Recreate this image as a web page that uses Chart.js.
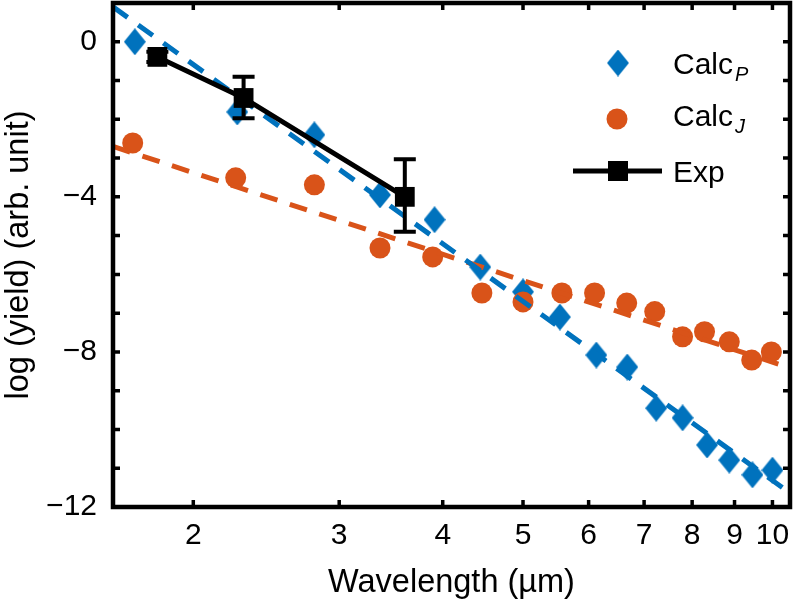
<!DOCTYPE html>
<html>
<head>
<meta charset="utf-8">
<script src="https://cdn.jsdelivr.net/npm/chart.js@4.4.1/dist/chart.umd.min.js"></script>
<style>
  html, body { margin: 0; padding: 0; background: #fff; }
</style>
</head>
<body>
<canvas id="grafico" width="794" height="603"></canvas>
<script>
// Datos (longitud de onda en um, log del rendimiento)
var lambdaP = [1.70, 2.26, 2.80, 3.36, 3.91, 4.44, 5.00, 5.54, 6.13, 6.68, 7.24, 7.79, 8.34, 8.87, 9.46, 10.0];
var calcP   = [0.0, -1.81, -2.40, -3.95, -4.59, -5.81, -6.45, -7.10, -8.08, -8.39, -9.45, -9.70, -10.40, -10.79, -11.17, -11.05];

var lambdaJ = [1.69, 2.25, 2.80, 3.36, 3.89, 4.46, 5.00, 5.57, 6.10, 6.67, 7.21, 7.79, 8.28, 8.87, 9.44, 9.97];
var calcJ   = [-2.61, -3.51, -3.69, -5.32, -5.55, -6.48, -6.71, -6.48, -6.48, -6.74, -6.96, -7.61, -7.48, -7.74, -8.21, -8.00];

var lambdaExp = [1.81, 2.30, 3.60];
var expVal    = [-0.39, -1.45, -4.00];
var expBajo   = [-0.52, -1.97, -4.90];
var expAlto   = [-0.26, -0.90, -3.03];

var ajusteX = [1.6, 10.5];
var ajusteP = [0.90, -11.64];
var ajusteJ = [-2.70, -8.41];

var ticksX = [2, 3, 4, 5, 6, 7, 8, 9, 10];
var etiquetasY = [-12, -8, -4, 0];
var marcasY = [-12, -11, -10, -9, -8, -7, -6, -5, -4, -3, -2, -1, 0];

var azul = '#0072BD';
var naranja = '#D95319';
var fuente = '"Liberation Sans", Arial, Helvetica, sans-serif';

function puntos(xs, ys) {
    var r = [];
    for (var i = 0; i < xs.length; i++) r.push({ x: xs[i], y: ys[i] });
    return r;
}

// rombo un poco mas alto que ancho, como en la figura original
var rombo = document.createElement('canvas');
rombo.width = 22;
rombo.height = 27;
var rc = rombo.getContext('2d');
rc.fillStyle = azul;
rc.beginPath();
rc.moveTo(11, 0);
rc.lineTo(22, 13.5);
rc.lineTo(11, 27);
rc.lineTo(0, 13.5);
rc.closePath();
rc.fill();

// barras de error de los datos experimentales
var barrasError = {
    id: 'barrasError',
    afterDatasetsDraw: function(chart) {
        var ctx = chart.ctx, sx = chart.scales.x, sy = chart.scales.y;
        ctx.save();
        ctx.strokeStyle = '#000';
        ctx.lineWidth = 4;
        ctx.beginPath();
        for (var i = 0; i < lambdaExp.length; i++) {
            var px = sx.getPixelForValue(lambdaExp[i]);
            var y1 = sy.getPixelForValue(expBajo[i]);
            var y2 = sy.getPixelForValue(expAlto[i]);
            ctx.moveTo(px, y1); ctx.lineTo(px, y2);
            ctx.moveTo(px - 11, y1); ctx.lineTo(px + 11, y1);
            ctx.moveTo(px - 11, y2); ctx.lineTo(px + 11, y2);
        }
        ctx.stroke();
        ctx.restore();
    }
};

// marco, marcas hacia dentro, titulo del eje y, leyenda
var marco = {
    id: 'marco',
    afterDraw: function(chart) {
        var a = chart.chartArea, ctx = chart.ctx;
        var sx = chart.scales.x, sy = chart.scales.y;
        ctx.save();
        ctx.strokeStyle = '#000';
        ctx.lineWidth = 3.5;
        ctx.beginPath();
        ticksX.forEach(function(v) {
            var px = sx.getPixelForValue(v);
            ctx.moveTo(px, a.bottom); ctx.lineTo(px, a.bottom - 7);
            ctx.moveTo(px, a.top); ctx.lineTo(px, a.top + 7);
        });
        marcasY.forEach(function(v) {
            var py = sy.getPixelForValue(v);
            ctx.moveTo(a.left, py); ctx.lineTo(a.left + 7, py);
            ctx.moveTo(a.right, py); ctx.lineTo(a.right - 7, py);
        });
        ctx.stroke();
        ctx.lineWidth = 4.5;
        ctx.strokeRect(a.left, a.top, a.right - a.left, a.bottom - a.top);

        // titulo eje y, centrado en el area del grafico
        ctx.fillStyle = '#000';
        ctx.font = '32.5px ' + fuente;
        ctx.textAlign = 'center';
        ctx.textBaseline = 'alphabetic';
        ctx.translate(28, (a.top + a.bottom) / 2);
        ctx.rotate(-Math.PI / 2);
        ctx.fillText('log (yield) (arb. unit)', 0, 0);
        ctx.restore();

        // leyenda
        ctx.save();
        ctx.drawImage(rombo, 618 - 11, 63 - 13.5);
        ctx.fillStyle = naranja;
        ctx.beginPath();
        ctx.arc(617, 119, 10.5, 0, 2 * Math.PI);
        ctx.fill();
        ctx.strokeStyle = '#000';
        ctx.lineWidth = 5;
        ctx.beginPath();
        ctx.moveTo(573, 171); ctx.lineTo(662, 171);
        ctx.stroke();
        ctx.fillStyle = '#000';
        ctx.fillRect(608, 161, 20, 20);

        ctx.textAlign = 'left';
        ctx.textBaseline = 'alphabetic';
        ctx.font = '30px ' + fuente;
        var w = ctx.measureText('Calc').width;
        ctx.fillText('Calc', 673, 74);
        ctx.fillText('Calc', 673, 126);
        ctx.fillText('Exp', 673, 182);
        ctx.font = 'italic 20px ' + fuente;
        ctx.fillText('P', 673 + w + 2, 81);
        ctx.fillText('J', 673 + w + 2, 133);
        ctx.restore();
    }
};

var ctx = document.getElementById('grafico').getContext('2d');

new Chart(ctx, {
    type: 'scatter',
    data: {
        datasets: [
            {
                label: 'CalcP',
                data: puntos(lambdaP, calcP),
                showLine: false,
                pointStyle: rombo,
                pointRadius: 13,
                order: 6
            },
            {
                label: 'CalcJ',
                data: puntos(lambdaJ, calcJ),
                showLine: false,
                pointStyle: 'circle',
                pointRadius: 10.5,
                pointBackgroundColor: naranja,
                pointBorderWidth: 0,
                order: 5
            },
            {
                label: 'ajusteJ',
                data: puntos(ajusteX, ajusteJ),
                showLine: true,
                borderColor: naranja,
                borderWidth: 5,
                borderDash: [18, 13],
                pointRadius: 0,
                order: 4
            },
            {
                label: 'ajusteP',
                data: puntos(ajusteX, ajusteP),
                showLine: true,
                borderColor: azul,
                borderWidth: 5,
                borderDash: [18, 13],
                pointRadius: 0,
                order: 3
            },
            {
                label: 'Exp',
                data: puntos(lambdaExp, expVal),
                showLine: true,
                borderColor: '#000',
                borderWidth: 5,
                pointStyle: 'rect',
                pointRadius: 14,
                pointBackgroundColor: '#000',
                pointBorderWidth: 0,
                order: 1
            }
        ]
    },
    options: {
        responsive: false,
        animation: false,
        events: [],
        layout: { autoPadding: false, padding: { top: 3, right: 4, left: 0, bottom: 0 } },
        plugins: {
            legend: { display: false },
            tooltip: { enabled: false }
        },
        scales: {
            x: {
                type: 'logarithmic',
                min: 1.6,
                max: 10.5,
                afterBuildTicks: function(s) {
                    s.ticks = ticksX.map(function(v) { return { value: v }; });
                },
                afterFit: function(s) {
                    s.height = 96;
                    s.paddingLeft = 0;
                    s.paddingRight = 0;
                },
                grid: { display: false, drawTicks: false },
                border: { display: false },
                ticks: {
                    autoSkip: false,
                    maxRotation: 0,
                    padding: 11,
                    color: '#000',
                    font: { size: 30, family: fuente },
                    callback: function(v) { return String(v); }
                },
                title: {
                    display: true,
                    text: 'Wavelength (\u00b5m)',
                    color: '#000',
                    font: { size: 32.5, family: fuente },
                    padding: { top: 0, bottom: 0 }
                }
            },
            y: {
                min: -12,
                max: 1,
                afterBuildTicks: function(s) {
                    s.ticks = etiquetasY.map(function(v) { return { value: v }; });
                },
                afterFit: function(s) {
                    s.width = 113;
                    s.paddingTop = 0;
                    s.paddingBottom = 0;
                },
                grid: { display: false, drawTicks: false },
                border: { display: false },
                ticks: {
                    autoSkip: false,
                    padding: 16,
                    color: '#000',
                    font: { size: 30, family: fuente },
                    callback: function(v) { return v === 0 ? '0' : '\u2212' + Math.abs(v); }
                }
            }
        }
    },
    plugins: [barrasError, marco]
});
</script>
</body>
</html>
